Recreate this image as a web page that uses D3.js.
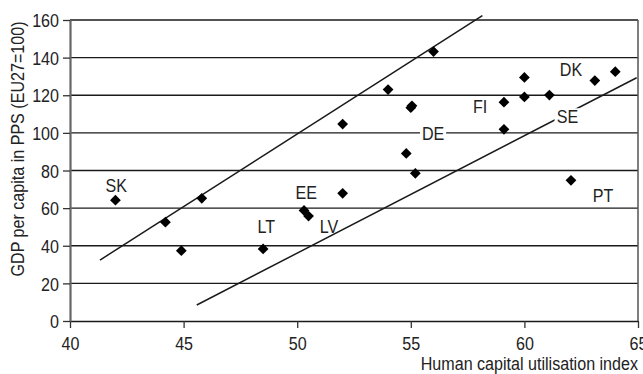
<!DOCTYPE html>
<html>
<head>
<title>GDP vs human capital utilisation</title>
<script src="https://d3js.org/d3.v7.min.js"></script>
<style>
	body {margin:0; background:white;}
	text {font-family:"Liberation Sans", Arial, sans-serif; font-size:18.5px; fill:#222;}
</style>
</head>
<body>
<div id="mydiv"></div>
<script>
// human capital utilisation index (x) and GDP per capita in PPS (y)
var hcu = [42.0, 44.2, 44.9, 45.8, 48.5, 50.3, 50.5, 52.0, 55.2, 62.05,
           56.0, 54.0, 55.0, 55.05, 52.0, 54.8, 59.1, 59.1, 60.0, 60.0, 61.1, 63.1, 64.0];
var gdp = [64.2, 52.5, 37.4, 65.2, 38.3, 58.8, 55.8, 67.9, 78.5, 74.8,
           143.2, 123.0, 113.4, 114.4, 104.7, 89.1, 116.3, 101.9, 129.5, 119.1, 120.1, 127.8, 132.5];

// country labels, placed in data units (centre, baseline)
var labelNames = ["SK", "EE", "LT", "LV", "DE", "FI", "SE", "DK", "PT"];
var labelX = [42.04, 50.40, 48.64, 51.40, 55.98, 58.05, 61.90, 62.05, 63.46];
var labelY = [68.7, 64.7, 46.9, 46.8, 96.2, 110.7, 105.1, 130.2, 63.4];
var boxed = ["DE", "SE"];

// the two guide lines, end points in data units
var upperLine = [[41.32, 32.4], [58.15, 162.3]];
var lowerLine = [[45.58, 8.5], [64.94, 129.3]];

var xTicks = [40, 45, 50, 55, 60, 65];
var yTicks = [0, 20, 40, 60, 80, 100, 120, 140, 160];

var sx = 0.87; // narrow the font

var svg = d3.select("#mydiv").append("svg")
	.attr("width", 643)
	.attr("height", 374);

var x = d3.scaleLinear().domain([40, 65]).range([70, 638]);
var y = d3.scaleLinear().domain([0, 160]).range([321, 20]);

// grid lines
svg.append("g").selectAll("line").data(yTicks.slice(1))
	.enter().append("line")
	.attr("x1", 70).attr("x2", 638)
	.attr("y1", function(d) {return y(d);})
	.attr("y2", function(d) {return y(d);})
	.attr("stroke", "#1a1a1a")
	.attr("stroke-width", 1.3);

// right border
svg.append("line")
	.attr("x1", x(65)).attr("x2", x(65))
	.attr("y1", y(0)).attr("y2", y(160))
	.attr("stroke", "#555").attr("stroke-width", 1.5);

// x axis
var xAxis = svg.append("g")
	.attr("transform", "translate(0," + y(0) + ")")
	.call(d3.axisBottom(x).tickValues(xTicks).tickSize(7).tickSizeOuter(0));
xAxis.select(".domain").attr("stroke", "#1a1a1a").attr("stroke-width", 1.5);
xAxis.selectAll(".tick line").attr("stroke", "#333").attr("stroke-width", 1.3);
xAxis.selectAll("text")
	.attr("y", 29).attr("dy", 0)
	.attr("transform", "scale(" + sx + ",1)")
	.style("font-size", "18.5px").style("font-family", "Liberation Sans, Arial, sans-serif")
	.attr("fill", "#222");

// y axis
var yAxis = svg.append("g")
	.attr("transform", "translate(70,0)")
	.call(d3.axisLeft(y).tickValues(yTicks).tickSize(7).tickSizeOuter(0));
yAxis.select(".domain").attr("stroke", "#666").attr("stroke-width", 2.2);
yAxis.selectAll(".tick line").attr("stroke", "#333").attr("stroke-width", 1.3);
yAxis.selectAll("text")
	.attr("x", -11 / sx).attr("dy", "0.36em")
	.attr("transform", "scale(" + sx + ",1)")
	.style("font-size", "18.5px").style("font-family", "Liberation Sans, Arial, sans-serif")
	.attr("fill", "#222");

// guide lines
var line = d3.line()
	.x(function(d) {return x(d[0]);})
	.y(function(d) {return y(d[1]);});

svg.selectAll("path.guide").data([upperLine, lowerLine])
	.enter().append("path")
	.attr("class", "guide")
	.attr("d", line)
	.attr("fill", "none")
	.attr("stroke", "#1a1a1a")
	.attr("stroke-width", 1.5);

// points
svg.selectAll("path.pt").data(hcu)
	.enter().append("path")
	.attr("class", "pt")
	.attr("d", d3.symbol().type(d3.symbolSquare).size(58))
	.attr("transform", function(d, i) {return "translate(" + x(d) + "," + y(gdp[i]) + ") rotate(45)";})
	.attr("fill", "black");

// labels
var labels = svg.selectAll("g.lab").data(labelNames)
	.enter().append("g")
	.attr("class", "lab")
	.attr("transform", function(d, i) {return "translate(" + x(labelX[i]) + "," + y(labelY[i]) + ") scale(" + sx + ",1)";});

labels.filter(function(d) {return boxed.indexOf(d) >= 0;})
	.append("rect")
	.attr("x", -15).attr("y", -15)
	.attr("width", 30).attr("height", 17)
	.attr("fill", "white");

labels.append("text")
	.attr("text-anchor", "middle")
	.text(function(d) {return d;});

// axis titles
svg.append("text")
	.attr("text-anchor", "middle")
	.attr("transform", "translate(23.5,149) rotate(-90) scale(" + sx + ",1)")
	.text("GDP per capita in PPS (EU27=100)");

svg.append("text")
	.attr("text-anchor", "end")
	.attr("transform", "translate(638,370) scale(" + sx + ",1)")
	.text("Human capital utilisation index");
</script>
</body>
</html>
